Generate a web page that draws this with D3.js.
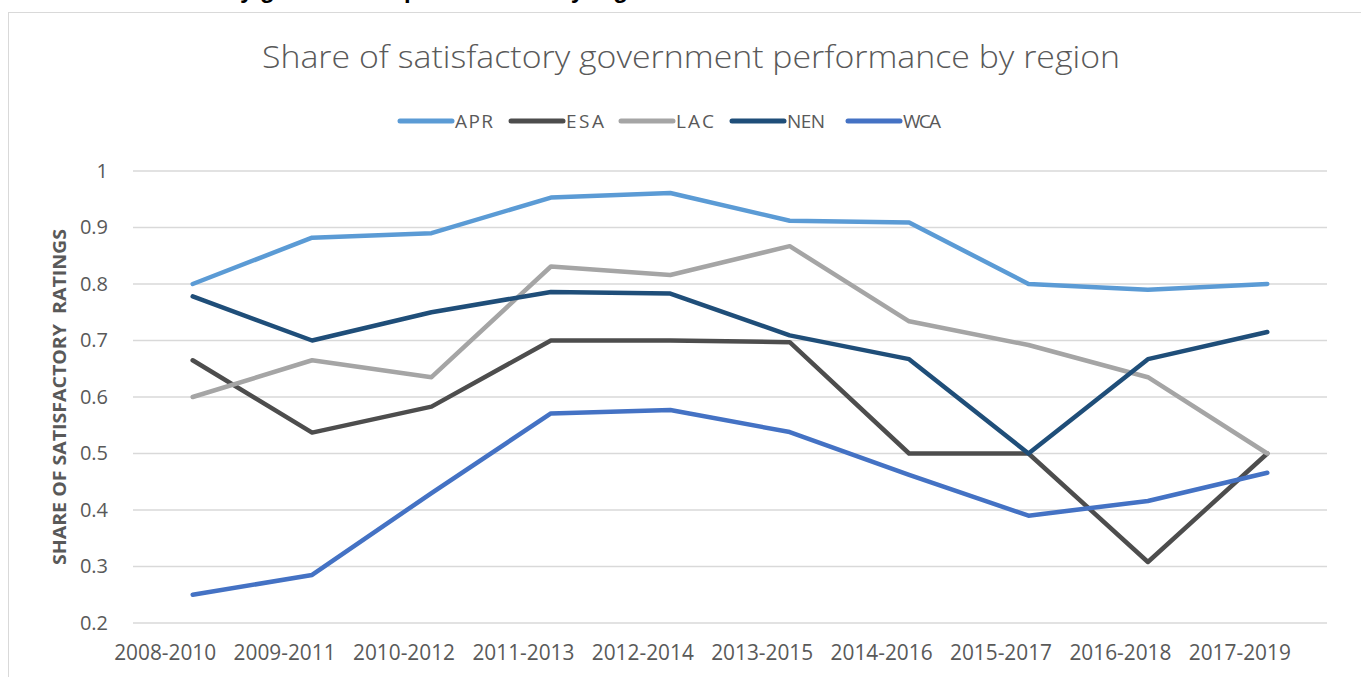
<!DOCTYPE html>
<html>
<head>
<meta charset="utf-8">
<script src="https://cdn.jsdelivr.net/npm/d3@7"></script>
<style>
  body { margin: 0; background: #fff; }
  svg { display: block; }
</style>
</head>
<body>
<svg></svg>
<script>
const width = 1361;
const height = 677;

const periods = ['2008-2010', '2009-2011', '2010-2012', '2011-2013', '2012-2014',
  '2013-2015', '2014-2016', '2015-2017', '2016-2018', '2017-2019'];
const regions = ['APR', 'ESA', 'LAC', 'NEN', 'WCA'];
const apr = [0.80, 0.882, 0.89, 0.953, 0.961, 0.912, 0.909, 0.80, 0.79, 0.80];
const esa = [0.665, 0.537, 0.583, 0.70, 0.70, 0.697, 0.50, 0.50, 0.308, 0.50];
const lac = [0.60, 0.665, 0.635, 0.831, 0.816, 0.867, 0.734, 0.692, 0.635, 0.50];
const nen = [0.778, 0.70, 0.75, 0.786, 0.783, 0.709, 0.667, 0.50, 0.667, 0.715];
const wca = [0.25, 0.285, 0.43, 0.571, 0.577, 0.538, 0.462, 0.39, 0.416, 0.466];
const yTicks = [0.2, 0.3, 0.4, 0.5, 0.6, 0.7, 0.8, 0.9, 1];
const colors = ['#5b9bd5', '#4d4d4d', '#a5a5a5', '#1f4e79', '#4472c4'];

const seriesValues = [apr, esa, lac, nen, wca];

const margin = { left: 133, right: 34, top: 171, bottom: 54 };
const textColor = '#595959';

const svg = d3.select('svg')
  .attr('width', width)
  .attr('height', height);

// chart frame
svg.append('rect')
  .attr('x', 8.5)
  .attr('y', 12.5)
  .attr('width', width + 20)
  .attr('height', height + 20)
  .style('fill', 'none')
  .style('stroke', '#d9d9d9')
  .style('stroke-width', 1);

// caption above the chart, mostly cut off by the top edge
svg.append('text')
  .attr('x', 664)
  .attr('y', -2)
  .attr('text-anchor', 'end')
  .style('font-family', 'Liberation Sans, Arial, sans-serif')
  .style('font-weight', 'bold')
  .style('font-size', '24px')
  .style('fill', '#000')
  .text('Share of satisfactory government performance by region');

const x = d3.scalePoint()
  .domain(periods)
  .range([margin.left, width - margin.right])
  .padding(0.5);

const y = d3.scaleLinear()
  .domain([0.2, 1])
  .range([height - margin.bottom, margin.top]);

// gridlines
svg.append('g')
  .selectAll('line')
  .data(yTicks)
  .join('line')
  .attr('x1', margin.left)
  .attr('x2', width - margin.right)
  .attr('y1', d => y(d))
  .attr('y2', d => y(d))
  .attr('stroke', '#d9d9d9')
  .attr('stroke-width', 1.3);

// y axis labels
const yAxis = svg.append('g')
  .attr('transform', `translate(${margin.left - 22}, 0)`)
  .call(d3.axisLeft(y).tickValues(yTicks).tickSize(0).tickFormat(d3.format('~g')));
yAxis.select('.domain').remove();
yAxis.selectAll('text')
  .style('font-family', 'Open Sans, sans-serif')
  .style('font-size', '20px')
  .style('fill', textColor);

// x axis labels (sit a little left of their points, as in the original)
const xAxis = svg.append('g')
  .attr('transform', `translate(-28, ${height - margin.bottom + 21})`)
  .call(d3.axisBottom(x).tickSize(0));
xAxis.select('.domain').remove();
xAxis.selectAll('text')
  .attr('dy', '0.75em')
  .attr('y', 0)
  .attr('textLength', 102)
  .attr('lengthAdjust', 'spacingAndGlyphs')
  .style('font-family', 'Open Sans, sans-serif')
  .style('font-size', '21px')
  .style('fill', textColor);

// y axis title
svg.append('text')
  .attr('transform', `translate(66, ${(margin.top + height - margin.bottom) / 2}) rotate(-90)`)
  .attr('text-anchor', 'middle')
  .attr('textLength', 336)
  .attr('lengthAdjust', 'spacingAndGlyphs')
  .style('font-family', 'Open Sans, sans-serif')
  .style('font-weight', 'bold')
  .style('font-size', '18px')
  .style('fill', textColor)
  .style('white-space', 'pre')
  .text('SHARE OF SATISFACTORY  RATINGS');

// title
svg.append('text')
  .attr('x', 691)
  .attr('y', 68)
  .attr('text-anchor', 'middle')
  .attr('textLength', 858)
  .attr('lengthAdjust', 'spacingAndGlyphs')
  .style('font-family', 'Open Sans, sans-serif')
  .style('font-weight', 300)
  .style('font-size', '32px')
  .style('fill', textColor)
  .text('Share of satisfactory government performance by region');

// legend
const legendX = [400, 511, 621, 732, 848];
const legend = svg.append('g');
regions.forEach((name, i) => {
  legend.append('line')
    .attr('x1', legendX[i])
    .attr('x2', legendX[i] + 52)
    .attr('y1', 121)
    .attr('y2', 121)
    .attr('stroke', colors[i])
    .attr('stroke-width', 5)
    .attr('stroke-linecap', 'round');
  legend.append('text')
    .attr('x', legendX[i] + 55)
    .attr('y', 121)
    .attr('dy', '0.35em')
    .attr('textLength', 38)
    .attr('lengthAdjust', 'spacing')
    .style('font-family', 'Open Sans, sans-serif')
    .style('font-size', '19px')
    .style('fill', textColor)
    .text(name);
});

// lines
const line = d3.line()
  .x((d, i) => x(periods[i]))
  .y(d => y(d));

svg.append('g')
  .selectAll('path')
  .data(seriesValues)
  .join('path')
  .attr('d', d => line(d))
  .attr('fill', 'none')
  .attr('stroke', (d, i) => colors[i])
  .attr('stroke-width', 4.5)
  .attr('stroke-linecap', 'round')
  .attr('stroke-linejoin', 'round');
</script>
</body>
</html>
